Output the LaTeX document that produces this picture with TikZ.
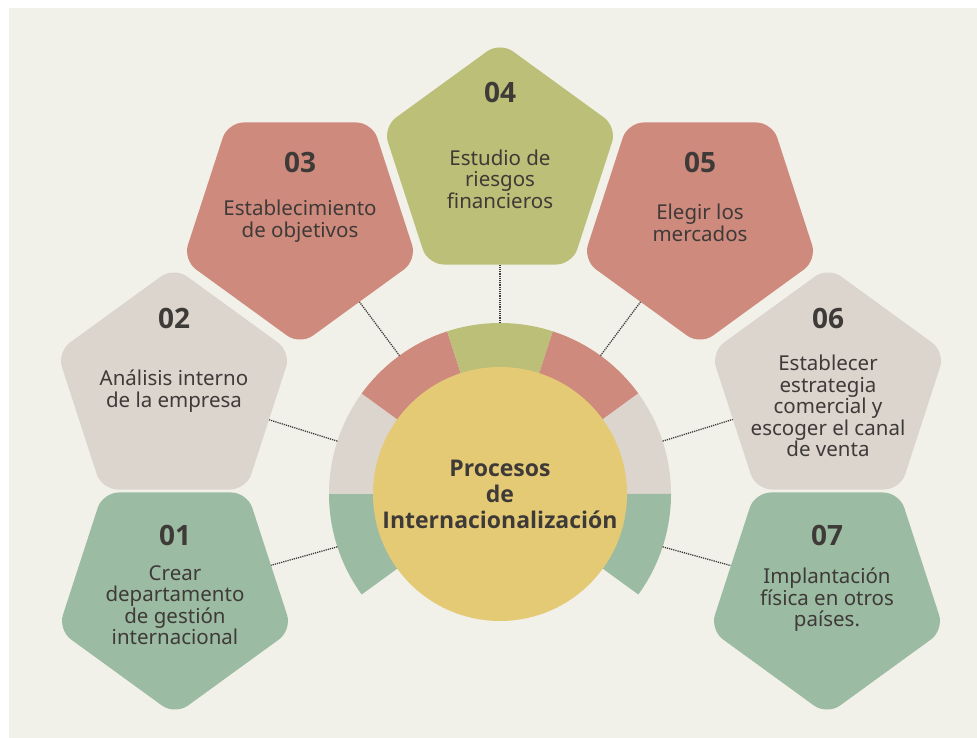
\documentclass[tikz,border=0pt]{standalone}
\usepackage{fontspec}
\setmainfont{Noto Sans}
\newfontfamily\heavy{Open Sans}
\usepackage{tikz}
\usetikzlibrary{
    calc,
    shapes.geometric
}

\definecolor{paper}{HTML}{F1F1EA}
\definecolor{sage}{HTML}{9CBBA3}
\definecolor{sand}{HTML}{DCD5CE}
\definecolor{rose}{HTML}{CF8A7E}
\definecolor{moss}{HTML}{BBBF77}
\definecolor{sun}{HTML}{E5CA76}
\definecolor{ink}{HTML}{3E3A37}

\begin{document}
\begin{tikzpicture}[x=1pt, y=1pt,
    petal/.style={regular polygon, regular polygon sides=5, minimum size=246pt,
        inner sep=0pt, rounded corners=16pt},
    flip/.style={shape border rotate=180},
    num/.style={font=\heavy\bfseries\fontsize{28}{30}\selectfont, text=ink},
    txt/.style={font=\fontsize{20.5}{21.5}\selectfont, text=ink, align=center},
    link/.style={draw=ink, line width=1.3pt, dash pattern=on 1.2pt off 1pt}]

% Background
\fill[white] (0,0) rectangle (977,738);
\fill[paper] (9,0) rectangle (977,730);
\useasboundingbox (0,0) rectangle (977,738);

% Centre
\coordinate (c) at (500,244);

% Ring
\fill[sage] (c) -- ++(216:171) arc[start angle=216, end angle=180, radius=171] -- cycle;
\fill[sand] (c) -- ++(180:171) arc[start angle=180, end angle=144, radius=171] -- cycle;
\fill[rose] (c) -- ++(144:171) arc[start angle=144, end angle=108, radius=171] -- cycle;
\fill[moss] (c) -- ++(108:171) arc[start angle=108, end angle=72, radius=171] -- cycle;
\fill[rose] (c) -- ++(72:171) arc[start angle=72, end angle=36, radius=171] -- cycle;
\fill[sand] (c) -- ++(36:171) arc[start angle=36, end angle=0, radius=171] -- cycle;
\fill[sage] (c) -- ++(0:171) arc[start angle=0, end angle=-36, radius=171] -- cycle;

% Hub
\node[circle, fill=sun, minimum size=254pt, inner sep=0pt, text=ink, align=center,
    font=\heavy\bfseries\fontsize{23}{26}\selectfont] (hub) at (c)
    {Procesos\\de\\Internacionalización};

% Ring ends of the links
\coordinate (r1) at ($(c)+(198:171)$);
\coordinate (r2) at ($(c)+(162:171)$);
\coordinate (r3) at ($(c)+(126:171)$);
\coordinate (r4) at ($(c)+(90:171)$);
\coordinate (r5) at ($(c)+(54:171)$);
\coordinate (r6) at ($(c)+(18:171)$);
\coordinate (r7) at ($(c)+(-18:171)$);

% Steps
\node[petal, flip, fill=sage] (p1) at (175,146) {};
\node[num] (n1) at (175,203) {01};
\node[txt] (t1) at (175,133) {Crear\\departamento\\de gestión\\internacional};

\node[petal, fill=sand] (p2) at (174,348) {};
\node[num] (n2) at (174,420) {02};
\node[txt] (t2) at (174,347) {Análisis interno\\de la empresa};

\node[petal, flip, fill=rose] (p3) at (300,516) {};
\node[num] (n3) at (300,576) {03};
\node[txt] (t3) at (300,517) {Establecimiento\\de objetivos};

\node[petal, fill=moss] (p4) at (500,573) {};
\node[num] (n4) at (500,646) {04};
\node[txt] (t4) at (500,559) {Estudio de\\riesgos\\financieros};

\node[petal, flip, fill=rose] (p5) at (700,516) {};
\node[num] (n5) at (700,576) {05};
\node[txt] (t5) at (700,515) {Elegir los\\mercados};

\node[petal, fill=sand] (p6) at (828,348) {};
\node[num] (n6) at (828,420) {06};
\node[txt] (t6) at (828,332) {Establecer\\estrategia\\comercial y\\escoger el canal\\de venta};

\node[petal, flip, fill=sage] (p7) at (827,146) {};
\node[num] (n7) at (827,203) {07};
\node[txt] (t7) at (827,138) {Implantación\\física en otros\\países.};

% Links
\draw[link] (r1) -- (p1);
\draw[link] (r2) -- (p2);
\draw[link] (r3) -- (p3);
\draw[link] (r4) -- (p4);
\draw[link] (r5) -- (p5);
\draw[link] (r6) -- (p6);
\draw[link] (r7) -- (p7);

\end{tikzpicture}
\end{document}
